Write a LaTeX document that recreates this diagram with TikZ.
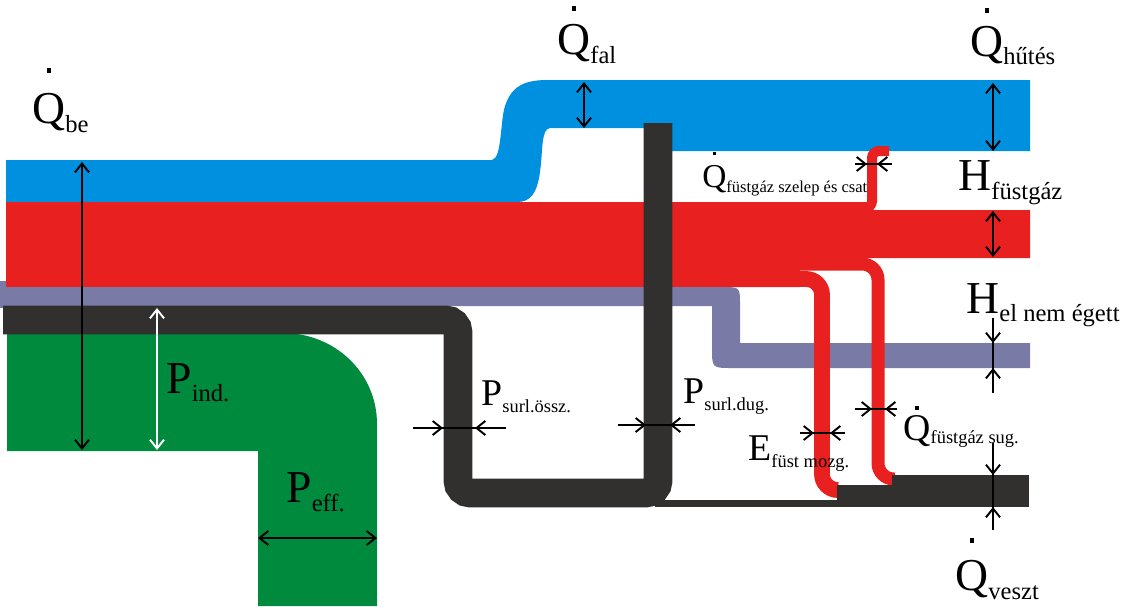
\documentclass[tikz,border=0pt]{standalone}
\usepackage{fontspec}
\setmainfont{Liberation Serif}
\usetikzlibrary{arrows.meta}

\definecolor{hutes}{RGB}{0,144,224}
\definecolor{fustgaz}{RGB}{232,32,32}
\definecolor{elnemegett}{RGB}{122,122,166}
\definecolor{surl}{RGB}{50,47,47}
\definecolor{hasznos}{RGB}{0,138,62}

% Q with the dot above it
\newcommand{\Qd}[1][1em]{\ooalign{Q\cr\hidewidth\raisebox{#1}{\rule{0.1em}{0.1em}}\hidewidth\cr}}
% main letter and lowered subscript: size, sub size, drop, letter, subscript
\newcommand{\flowlbl}[5]{{\fontsize{#1}{#1}\selectfont #4}\raisebox{-#3}{\fontsize{#2}{#2}\selectfont #5}}

\begin{document}
\begin{tikzpicture}[x=0.02cm,y=-0.02cm,
  dim_arrow/.style={draw=black,line width=1.1pt,{Straight Barb[length=5pt,width=8pt]}-{Straight Barb[length=5pt,width=8pt]}},
  in_arrow/.style={draw=black,line width=1.1pt,-{Straight Barb[length=5pt,width=8pt]}},
  dim_line/.style={draw=black,line width=1.1pt},
  flow_label/.style={anchor=base west,inner sep=0pt}]

\useasboundingbox (0,0) rectangle (1124,606);

% cooling and wall heat
\fill[hutes] (6,160) -- (492,160) .. controls (502,158) and (500,122) .. (505,106)
  .. controls (511,88) and (522,80) .. (547,80) -- (1030,80) -- (1030,151) -- (660,151) -- (660,128)
  -- (550,128) .. controls (541,129) and (543,150) .. (540,172) .. controls (537,194) and (530,202) .. (517,202)
  -- (6,202) -- cycle;

% flue gas
\fill[fustgaz] (6,202) -- (866,202) -- (866,210) -- (1030,210) -- (1030,258) -- (800,258) -- (800,287) -- (6,287) -- cycle;

% unburnt
\fill[elnemegett] (0,281) rectangle (6,308);
\fill[elnemegett] (6,287) -- (722,287) .. controls (740,287) .. (740,305) -- (740,343) -- (1030,343)
  -- (1030,368) -- (732,368) .. controls (712,368) .. (712,348) -- (712,306) -- (6,306) -- cycle;

% effective power
\fill[hasznos] (7,333) -- (283,333) .. controls (335,333) and (377,373) .. (377,424) -- (377,606)
  -- (258,606) -- (258,451) -- (7,451) -- cycle;

% friction loop
\draw[surl,line width=16.4pt,rounded corners=7pt] (3,320) -- (458,320) -- (458,493) -- (658,493) -- (658,123);

% flue gas branches
\draw[fustgaz,line width=9pt,rounded corners=9pt] (780,279) -- (822,279) -- (822,490) -- (838,490);
\draw[fustgaz,line width=7.4pt,rounded corners=9pt] (800,264) -- (878,264) -- (878,479) -- (895,479);
\draw[fustgaz,line width=5.7pt,rounded corners=4pt] (855,208) -- (872,208) -- (872,151) -- (889,151);

% losses
\fill[surl] (655,500) rectangle (862,507);
\fill[surl] (837,485) rectangle (892,507);
\fill[surl] (892,475) rectangle (1029,507);

% dimension arrows
\draw[dim_arrow] (82,162) -- (82,450);
\draw[dim_arrow,draw=white] (157,308) -- (157,450);
\draw[dim_arrow] (258,538) -- (377,538);
\draw[dim_arrow] (584,82) -- (584,128);
\draw[dim_arrow] (993,83) -- (993,151);
\draw[dim_arrow] (993,211) -- (993,257);

\draw[dim_line] (993,318) -- (993,393);
\draw[in_arrow] (993,318) -- (993,343);
\draw[in_arrow] (993,393) -- (993,368);

\draw[dim_line] (993,443) -- (993,530);
\draw[in_arrow] (993,443) -- (993,475);
\draw[in_arrow] (993,530) -- (993,507);

\draw[dim_line] (413,428) -- (506,428);
\draw[in_arrow] (413,428) -- (443,428);
\draw[in_arrow] (506,428) -- (475,428);

\draw[dim_line] (618,425) -- (695,425);
\draw[in_arrow] (618,425) -- (646,425);
\draw[in_arrow] (695,425) -- (670,425);

\draw[dim_line] (855,164) -- (892,164);
\draw[in_arrow] (855,164) -- (867,164);
\draw[in_arrow] (892,164) -- (877,164);

\draw[dim_line] (800,433) -- (845,433);
\draw[in_arrow] (800,433) -- (814,433);
\draw[in_arrow] (845,433) -- (830,433);

\draw[dim_line] (855,409) -- (897,409);
\draw[in_arrow] (855,409) -- (872,409);
\draw[in_arrow] (897,409) -- (885,409);

% labels
\node[flow_label] (qbe) at (32,123) {\flowlbl{26pt}{14pt}{5.5pt}{\Qd[1.1em]}{be}};
\node[flow_label] (qfal) at (557,54) {\flowlbl{26pt}{14pt}{5.5pt}{\Qd[0.95em]}{fal}};
\node[flow_label] (qhutes) at (970,56) {\flowlbl{26pt}{14pt}{5pt}{\Qd[0.95em]}{hűtés}};
\node[flow_label] (hfust) at (958,190) {\flowlbl{26pt}{14pt}{5.5pt}{H}{füstgáz}};
\node[flow_label] (helnem) at (966,313) {\flowlbl{26pt}{14pt}{5pt}{H}{el nem égett}};
\node[flow_label] (pind) at (166,393) {\flowlbl{26pt}{14pt}{5pt}{P}{ind.}};
\node[flow_label] (peff) at (286,502) {\flowlbl{26pt}{14pt}{5.5pt}{P}{eff.}};
\node[flow_label] (qveszt) at (955,590) {\flowlbl{26pt}{14pt}{5.5pt}{\Qd[1.03em]}{veszt}};
\node[flow_label] (psurlossz) at (481,405) {\flowlbl{21.5pt}{10.5pt}{4pt}{P}{surl.össz.}};
\node[flow_label] (psurldug) at (683,403) {\flowlbl{21.5pt}{10.5pt}{4pt}{P}{surl.dug.}};
\node[flow_label] (efust) at (748,460) {\flowlbl{21.5pt}{10.5pt}{4pt}{E}{füst mozg.}};
\node[flow_label] (qfustsug) at (903,440) {\flowlbl{21.5pt}{10.5pt}{2pt}{\Qd[0.8em]}{füstgáz sug.}};
\node[flow_label] (qfustszelep) at (702,187) {\flowlbl{19pt}{9.4pt}{3pt}{\Qd[0.95em]}{füstgáz szelep és csat}};

\end{tikzpicture}
\end{document}
